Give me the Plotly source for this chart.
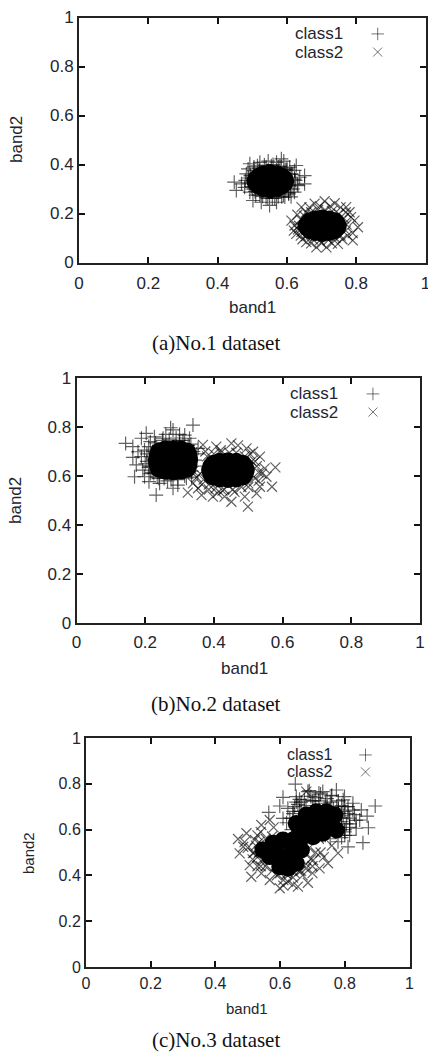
import plotly.graph_objects as go

# Panel (a) values
a1_x = [.448,.454,.469,.478,.493,.488,.522,.546,.570,.584,.591,.627,.622,.651,.637,.651,.632,.622,.502,.526,.550,.570,.594,.493,.483,.608,
        .505,.515,.535,.560,.580,.600,.615,.610,.625,.490,.500,.510,.530,.545,.565,.585,.605,.480,.612,.600,
        .495,.505,.520,.540,.555,.575,.595,.612,.622,.630,.618,.605,.590,.575,.558,.540,.522,.508,.497,.488]
a1_y = [.328,.294,.321,.307,.403,.382,.409,.414,.409,.423,.414,.396,.376,.355,.348,.321,.314,.287,.253,.246,.233,.246,.267,.287,.362,.389,
        .390,.395,.398,.400,.393,.385,.360,.300,.335,.345,.300,.275,.270,.262,.262,.268,.280,.335,.268,.378,
        .355,.375,.385,.390,.395,.390,.380,.362,.340,.318,.300,.285,.275,.268,.262,.265,.275,.290,.310,.325]
a1_core_x = [.552,.506,.598,.518,.586,.518,.586,.532,.572,.532,.572,.552,.552,.509,.595,.509,.595]
a1_core_y = [.332,.332,.332,.354,.354,.310,.310,.364,.364,.300,.300,.369,.295,.343,.343,.321,.321]
a2_x = [.613,.642,.680,.709,.738,.781,.805,.790,.747,.714,.685,.656,.627,.622,.795,.771,
        .630,.655,.665,.695,.725,.755,.770,.785,.775,.760,.730,.700,.670,.645,.632,.640,.620,.790,
        .640,.650,.670,.690,.710,.730,.750,.765,.772,.770,.755,.740,.720,.695,.675,.655,.642,.635]
a2_y = [.171,.226,.240,.250,.242,.205,.144,.090,.076,.062,.062,.083,.117,.151,.171,.226,
        .195,.205,.225,.230,.230,.225,.205,.185,.110,.095,.078,.078,.078,.095,.135,.110,.130,.120,
        .175,.190,.205,.215,.215,.210,.198,.180,.155,.130,.110,.100,.092,.090,.095,.108,.125,.150]
a2_core_x = [.702,.654,.750,.665,.739,.665,.739,.682,.722,.682,.722,.702,.702,.658,.746,.658,.746]
a2_core_y = [.150,.150,.150,.172,.172,.128,.128,.180,.180,.120,.120,.184,.116,.161,.161,.139,.139]

# Panel (b)
b1_x = [.143,.164,.203,.189,.274,.339,.232,.169,.174,.164,.189,.193,.211,.242,.281,.295,.320,.227,.252,.281,.315,.329,.354,.198,.179,.198,
        .215,.222,.212,.205,.240,.265,.300,.333,.345,.350,.260,.300,.335,.225,
        .205,.210,.200,.215,.230,.250,.270,.290,.310,.325,.340,.345,.335,.315,.295,.275,.255,.235,.220,.210]
b1_y = [.733,.720,.774,.754,.797,.808,.522,.597,.645,.676,.679,.624,.577,.570,.550,.563,.591,.760,.754,.788,.767,.754,.713,.706,.699,.597,
        .740,.700,.640,.660,.590,.580,.745,.730,.640,.690,.770,.770,.595,.610,
        .690,.720,.650,.610,.735,.745,.750,.755,.745,.725,.700,.665,.620,.600,.585,.585,.590,.595,.615,.635]
b1_core_x = [.281,.234,.328,.240,.322,.240,.322,.258,.304,.258,.304,.281,.281,.236,.326,.236,.326]
b1_core_y = [.665,.665,.665,.700,.700,.630,.630,.708,.708,.622,.622,.710,.620,.683,.683,.647,.647]
b2_x = [.579,.569,.499,.451,.324,.524,.490,.364,.397,.354,.553,.548,.534,.451,.495,.407,.368,.431,.534,.339,.514,
        .375,.420,.470,.505,.520,.540,.425,.460,.365,.350,.385,.410,.500,.530,.340,
        .380,.400,.420,.445,.465,.490,.510,.525,.530,.520,.500,.480,.455,.430,.405,.385,.370,.360]
b2_y = [.635,.556,.475,.495,.532,.529,.516,.522,.516,.550,.597,.631,.679,.733,.713,.720,.727,.516,.556,.570,.699,
        .700,.705,.725,.690,.660,.610,.540,.535,.565,.595,.545,.530,.555,.580,.620,
        .680,.690,.695,.695,.695,.680,.660,.640,.615,.590,.570,.555,.545,.545,.550,.565,.585,.610]
b2_core_x = [.441,.389,.493,.398,.484,.398,.484,.417,.465,.417,.465,.441,.441,.392,.490,.392,.490]
b2_core_y = [.624,.624,.624,.650,.650,.598,.598,.658,.658,.590,.590,.660,.588,.638,.638,.610,.610]

# Panel (c)
c1_x = [.647,.565,.609,.599,.894,.869,.873,.856,.846,.851,.774,.732,.799,.686,.650,.660,.758,.825,.609,.624,.810,.835,.779,
        .630,.640,.655,.675,.695,.710,.725,.745,.760,.780,.795,.810,.825,.835,.815,.800,.790,.815,.830,.770,.755,.740,
        .795,.805,.780,.790,.815,.650,.620,.635,.720,.690,.705,.770,.750,.760,.800,
        .645,.665,.680,.700,.720,.740,.755,.775,.790,.800,.790,.800,.810,.780,.765,.745,.800,.815,.640,.660]
c1_y = [.799,.675,.741,.703,.703,.659,.608,.543,.642,.686,.773,.766,.744,.766,.744,.732,.747,.715,.649,.693,.525,.606,.547,
        .650,.680,.710,.730,.745,.740,.755,.735,.750,.725,.730,.700,.685,.640,.650,.600,.565,.575,.665,.590,.560,.575,
        .660,.625,.690,.635,.610,.720,.630,.600,.760,.770,.725,.610,.590,.680,.700,
        .700,.720,.705,.725,.725,.715,.720,.700,.705,.680,.650,.590,.670,.670,.690,.700,.575,.625,.670,.680]
c1_core_x = [.650,.681,.712,.743,.769,.660,.691,.722,.753,.702,.732,.774]
c1_core_y = [.627,.664,.678,.678,.664,.584,.613,.635,.627,.569,.584,.598]
c2_x = [.470,.496,.486,.475,.511,.506,.542,.568,.599,.655,.686,.722,.748,.779,.542,.568,.624,.516,.522,.681,.702,
        .490,.500,.515,.530,.525,.540,.555,.580,.610,.640,.670,.700,.735,.725,.700,.680,.760,.720,.545,.535,.555,.590,.530,.640,.665,.575,.610,
        .535,.545,.555,.565,.585,.600,.620,.645,.660,.680,.695,.710,.690,.530,.520,.540,.575]
c2_y = [.559,.584,.525,.496,.394,.445,.620,.642,.344,.351,.368,.431,.453,.497,.409,.380,.373,.497,.555,.766,.467,
        .545,.520,.470,.440,.530,.590,.560,.610,.380,.390,.400,.410,.480,.500,.440,.430,.530,.560,.470,.500,.440,.400,.575,.360,.420,.420,.355,
        .545,.520,.495,.460,.440,.410,.405,.410,.420,.450,.470,.500,.520,.480,.500,.440,.570]
c2_core_x = [.547,.578,.609,.640,.671,.568,.599,.635,.666,.599,.624,.650,.624]
c2_core_y = [.511,.540,.555,.555,.569,.482,.489,.496,.511,.438,.431,.453,.475]

tick_vals = [0, .2, .4, .6, .8, 1]
tick_text = ["0", "0.2", "0.4", "0.6", "0.8", "1"]
captions = ["(a)No.1 dataset", "(b)No.2 dataset", "(c)No.3 dataset"]
key_x = [.862, .863, .864]
key_y1 = [.933, .935, .926]
key_y2 = [.859, .861, .852]
label_x = [.617, .616, .614]

# The figure is a little wider than the window so the last tick label of panel (a) still draws.
W, H = 440, 1053
boxes = [(79, 425.5, 17.5, 262.5), (76.5, 420, 378, 623), (86, 409.5, 738, 967)]
tick_font = [17, 17, 16]
title_font = [17, 17, 15]
x_standoff = [4, 3, 1]
cap_y = [343, 704, 1040]
xt_pos = [(252, 307), (245, 668), (247, 1008)]
yt_pos = [(17, 140), (15, 500), (28, 853)]
panels = [
    ((a1_x, a1_y, a1_core_x, a1_core_y), (a2_x, a2_y, a2_core_x, a2_core_y), 16),
    ((b1_x, b1_y, b1_core_x, b1_core_y), (b2_x, b2_y, b2_core_x, b2_core_y), 18),
    ((c1_x, c1_y, c1_core_x, c1_core_y), (c2_x, c2_y, c2_core_x, c2_core_y), 17),
]
INK = "rgba(0,0,0,0.62)"
TEXT = "#222530"

fig = go.Figure()
layout = dict(width=W, height=H, margin=dict(l=0, r=0, t=0, b=0), showlegend=False,
              plot_bgcolor="white", paper_bgcolor="white", annotations=[])


def page_text(x, y, text, family, size, color, angle=0):
    return dict(x=x / W, y=1 - y / H, xref="paper", yref="paper", text=text, showarrow=False, textangle=angle,
                xanchor="center", yanchor="middle", font=dict(family=family, size=size, color=color))


for i, (c1, c2, core) in enumerate(panels):
    xa, ya = f"x{i+1}", f"y{i+1}"
    for (sx, sy, cx, cy), sym, name in ((c1, "cross-thin", "class1"), (c2, "x-thin", "class2")):
        fig.add_trace(go.Scatter(x=cx, y=cy, xaxis=xa, yaxis=ya, mode="markers", name=name,
                                 marker=dict(symbol="circle", size=core, color="black"), hoverinfo="skip"))
        fig.add_trace(go.Scatter(x=sx, y=sy, xaxis=xa, yaxis=ya, mode="markers", name=name,
                                 marker=dict(symbol=sym, size=10, line=dict(width=1.2, color=INK))))
    for ky, sym in ((key_y1[i], "cross-thin"), (key_y2[i], "x-thin")):
        fig.add_trace(go.Scatter(x=[key_x[i]], y=[ky], xaxis=xa, yaxis=ya, mode="markers", hoverinfo="skip",
                                 marker=dict(symbol=sym, size=9, line=dict(width=1, color="rgba(0,0,0,0.55)"))))
    l, r, t, b = boxes[i]
    common = dict(range=[0, 1], tickmode="array", tickvals=tick_vals, ticktext=tick_text, ticks="inside",
                  ticklen=6, tickwidth=1.6, tickcolor="#111", showline=True, linewidth=2, linecolor="#222",
                  mirror="allticks", showgrid=False, zeroline=False, automargin=False,
                  tickfont=dict(family="Liberation Sans", size=tick_font[i], color=TEXT))
    layout[f"xaxis{i+1 if i else ''}"] = dict(common, domain=[l / W, r / W], anchor=ya, ticklabelstandoff=x_standoff[i])
    layout[f"yaxis{i+1 if i else ''}"] = dict(common, domain=[1 - b / H, 1 - t / H], anchor=xa)
    for ky, txt in ((key_y1[i], "class1"), (key_y2[i], "class2")):
        layout["annotations"].append(dict(x=label_x[i], y=ky, xref=xa, yref=ya, text=txt, showarrow=False,
                                          xanchor="left", yanchor="middle",
                                          font=dict(family="Liberation Sans", size=tick_font[i], color=TEXT)))
    layout["annotations"].append(page_text(*xt_pos[i], "band1", "Liberation Sans", title_font[i], TEXT))
    layout["annotations"].append(page_text(*yt_pos[i], "band2", "Liberation Sans", title_font[i], TEXT, -90))
    layout["annotations"].append(page_text(216, cap_y[i], captions[i], "Liberation Serif", 21, "#111"))

fig.update_layout(**layout)
fig.write_html("out.html", config={"displayModeBar": False},
               post_script="document.body.style.margin='0';document.body.style.overflow='hidden';")
